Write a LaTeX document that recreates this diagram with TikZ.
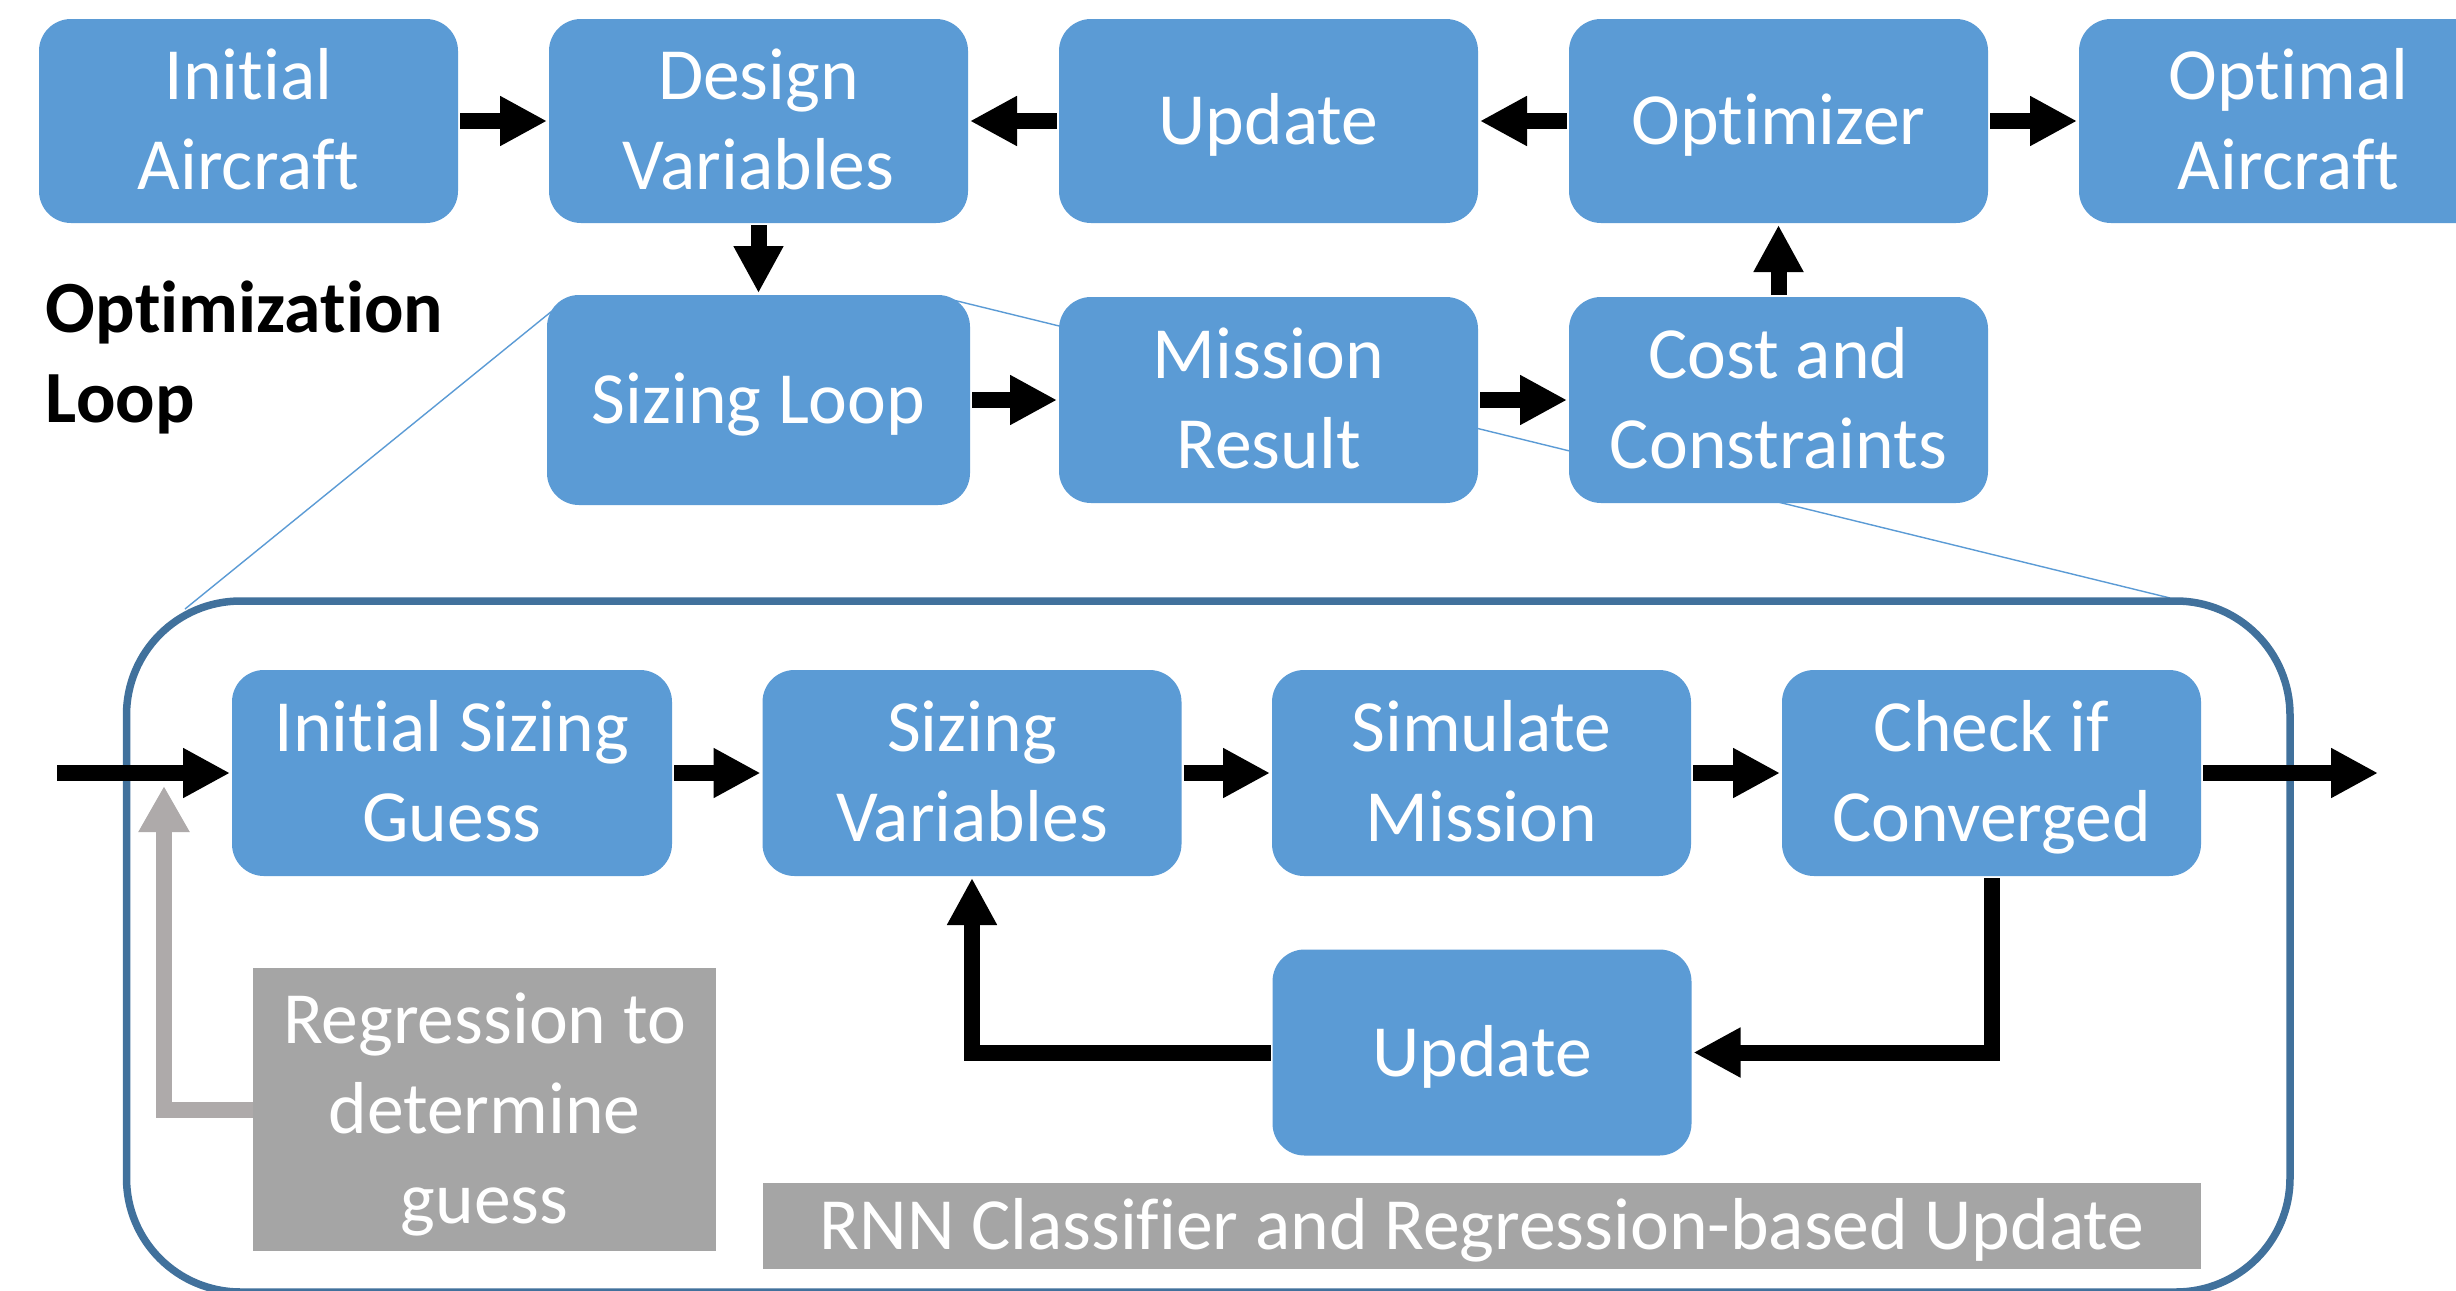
\documentclass[tikz,border=0pt]{standalone}
\usepackage{fontspec}
\setmainfont{Carlito}[Ligatures=NoCommon]
\usetikzlibrary{arrows.meta}

\definecolor{boxblue}{HTML}{5B9BD5}
\definecolor{framblue}{HTML}{41719C}
\definecolor{boxgray}{HTML}{A5A5A5}
\definecolor{arrowgray}{HTML}{AEAAAA}

\newcommand\diagfont{\fontsize{36.8pt}{45pt}\selectfont}

\begin{document}
\begin{tikzpicture}[x=0.5pt, y=-0.5pt,
  every node/.style={inner sep=0pt, outer sep=0pt},
  labelbox/.style={text=white, align=center, font=\diagfont,
    text height=23.5pt, text depth=0pt},
  twolines/.style={text height=68.5pt},
  threelines/.style={text height=113.5pt},
  bluebox/.style={labelbox, fill=boxblue, rounded corners=16pt},
  graybox/.style={labelbox, fill=boxgray},
  topbox/.style={bluebox, minimum width=209.5pt, minimum height=102pt},
  midbox/.style={bluebox, minimum width=209.5pt, minimum height=103pt},
  arr/.style={draw=black, line width=8pt, line join=miter,
    -{Triangle[width=23.5pt, length=23.5pt]},
    shorten <=1pt, shorten >=1pt},
  grayarr/.style={draw=arrowgray, line width=8pt, line join=miter,
    -{Triangle[width=24pt, length=23pt]}},
  zoomline/.style={draw=boxblue, line width=0.7pt},
  frame/.style={draw=framblue, line width=3.75pt, rounded corners=57pt}
]
\useasboundingbox[fill=white] (0,0) rectangle (2456,1290);

% zoom-out lines from the sizing loop to the detail frame
\coordinate (zl1) at (552,311);
\coordinate (zl2) at (185,609);
\coordinate (zr1) at (953,300);
\coordinate (zr2) at (2170,598);
\draw[zoomline] (zl1) -- (zl2);
\draw[zoomline] (zr1) -- (zr2);

% detail frame of the sizing loop
\node[frame, minimum width=1081.75pt, minimum height=345.5pt] (frm) at (1208.25,946.5) {};

% optimization loop
\node[topbox, twolines] (ia)  at (248.5,121)  {Initial\\Aircraft};
\node[topbox, twolines] (dv)  at (758.5,121)  {Design\\Variables};
\node[topbox] (up)  at (1268.5,121) {Update};
\node[topbox] (opt) at (1778.5,121) {Optimizer};
\node[topbox, twolines] (oa)  at (2288.5,121) {Optimal\\Aircraft};

\node[bluebox, minimum width=211.5pt, minimum height=105pt] (sl) at (758.5,400) {Sizing Loop};
\node[midbox, twolines] (mr) at (1268.5,400) {Mission\\Result};
\node[midbox, twolines] (cc) at (1778.5,400) {Cost and\\Constraints};

\node[anchor=north west, align=left, font=\diagfont\bfseries,
  text height=68.5pt, text depth=0pt] (ol) at (46,285) {Optimization\\Loop};

\draw[arr] (ia) -- (dv);
\draw[arr] (up) -- (dv);
\draw[arr] (opt) -- (up);
\draw[arr] (opt) -- (oa);
\draw[arr] (dv) -- (sl);
\draw[arr] (sl) -- (mr);
\draw[arr] (mr) -- (cc);
\draw[arr] (cc) -- (opt);

% sizing loop detail
\node[bluebox, twolines, minimum width=220pt, minimum height=103pt] (isg) at (452,773) {Initial Sizing\\Guess};
\node[midbox, twolines] (sv)  at (972,773)    {Sizing\\Variables};
\node[midbox, twolines] (sm)  at (1481.5,773) {Simulate\\Mission};
\node[midbox, twolines] (chk) at (1991.5,773) {Check if\\Converged};
\node[midbox] (upd) at (1482,1052.5) {Update};

\node[graybox, threelines, minimum width=231.5pt, minimum height=141.5pt] (reg) at (484.5,1109.5)
  {Regression to\\determine\\guess};
\node[graybox, minimum width=719pt, minimum height=43pt] (rnn) at (1482,1226)
  {RNN Classifier and Regression-based Update};

\coordinate (in)  at (57,773);
\coordinate (out) at (2378,773);
\coordinate (gtip) at (164,786);

\draw[arr, shorten <=0pt] (in) -- (isg);
\draw[arr] (isg) -- (sv);
\draw[arr] (sv) -- (sm);
\draw[arr] (sm) -- (chk);
\draw[arr, shorten >=0pt] (chk) -- (out);
\draw[arr] (chk.south) |- (upd.east);
\draw[arr] (upd.west) -| (sv.south);
\draw[grayarr] (reg.west) -| (gtip);
\end{tikzpicture}
\end{document}
